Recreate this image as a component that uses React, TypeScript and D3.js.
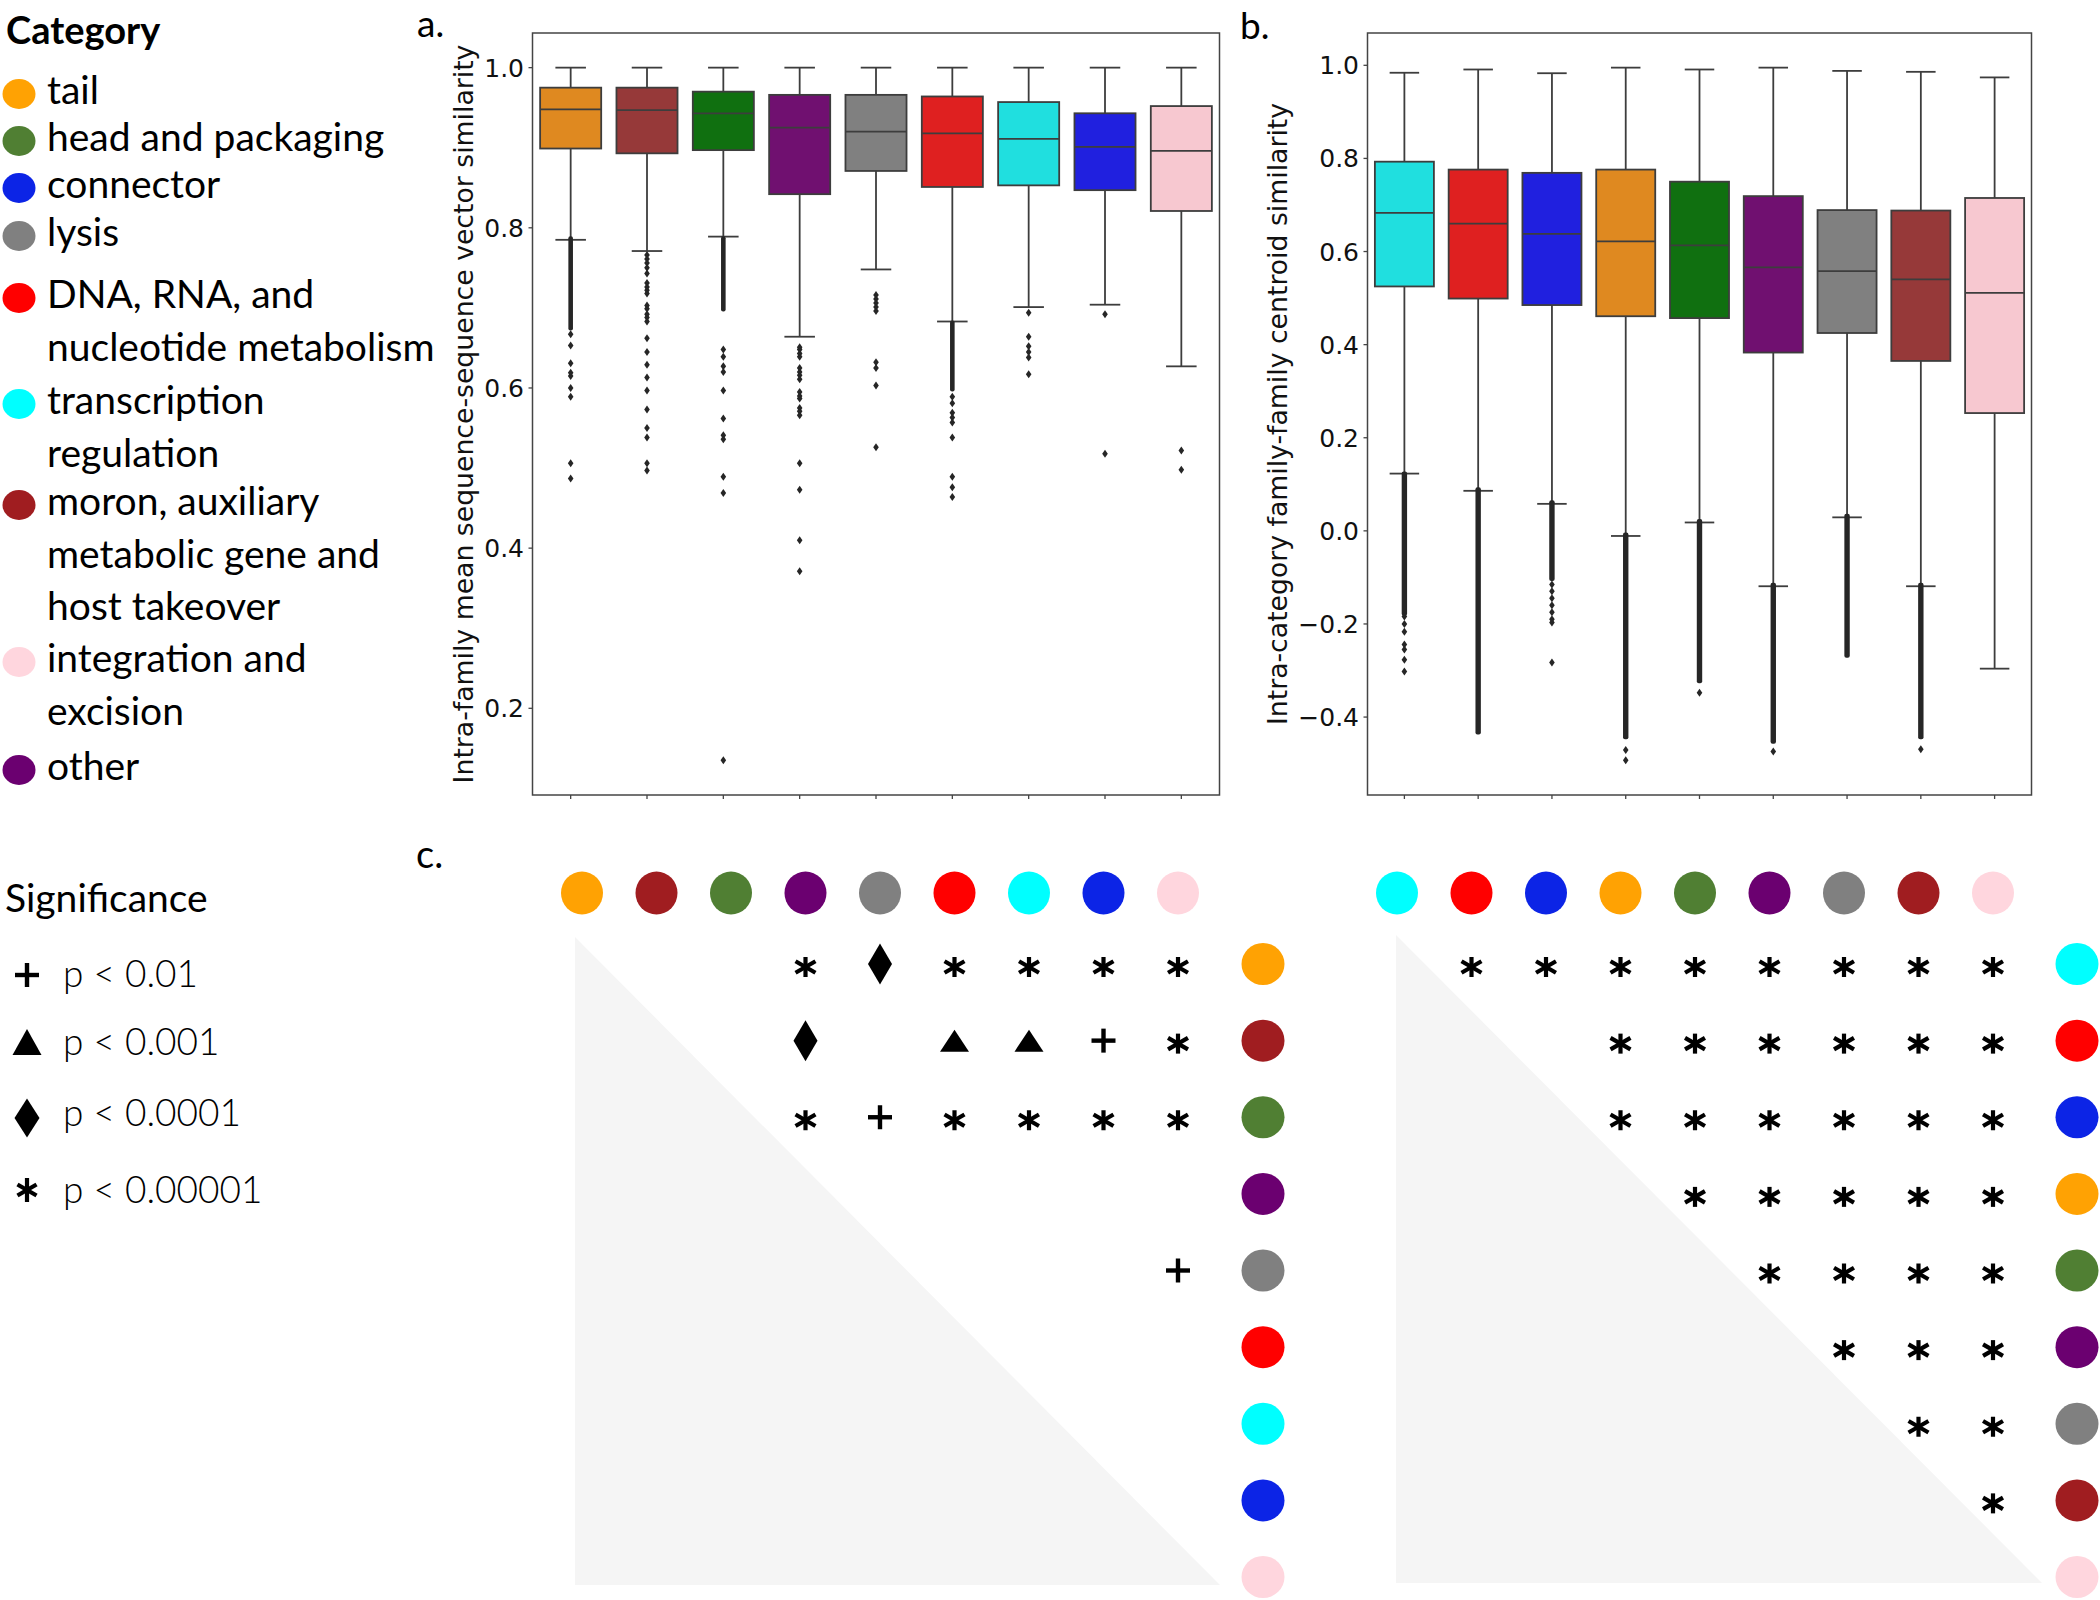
import React from "react";
import * as d3 from "d3";

// categories and colours
const catKeys = ["tail", "head", "connector", "lysis", "dna", "transcription", "moron", "integration", "other"];
const legendLabels = [
  ["tail"],
  ["head and packaging"],
  ["connector"],
  ["lysis"],
  ["DNA, RNA, and", "nucleotide metabolism"],
  ["transcription", "regulation"],
  ["moron, auxiliary", "metabolic gene and", "host takeover"],
  ["integration and", "excision"],
  ["other"],
];
const dotColors = {
  tail: "#ffa203", head: "#507f33", connector: "#0c24e6", lysis: "#808080", dna: "#ff0000",
  transcription: "#00ffff", moron: "#a01d20", integration: "#ffd6de", other: "#6b0070",
};
const boxColors = {
  tail: "#df8920", head: "#107010", connector: "#2020df", lysis: "#808080", dna: "#df2020",
  transcription: "#20dfdf", moron: "#963939", integration: "#f7c8d0", other: "#701070",
};

// panel a: intra-family mean similarity
const orderA = ["tail", "moron", "head", "other", "lysis", "dna", "transcription", "connector", "integration"];
const whiskerHighA = [1.0, 1.0, 1.0, 1.0, 1.0, 1.0, 1.0, 1.0, 1.0];
const q3A = [0.975, 0.975, 0.970, 0.966, 0.966, 0.964, 0.957, 0.943, 0.952];
const medianA = [0.948, 0.947, 0.943, 0.925, 0.920, 0.918, 0.911, 0.901, 0.896];
const q1A = [0.899, 0.893, 0.897, 0.842, 0.871, 0.851, 0.853, 0.847, 0.821];
const whiskerLowA = [0.785, 0.771, 0.789, 0.664, 0.748, 0.683, 0.701, 0.704, 0.627];
const outliersA = [
  [0.667, 0.653, 0.631, 0.619, 0.615, 0.600, 0.589, 0.506, 0.487],
  [0.766, 0.761, 0.756, 0.750, 0.743, 0.731, 0.726, 0.722, 0.718, 0.703, 0.699, 0.692, 0.688, 0.683,
    0.662, 0.645, 0.629, 0.613, 0.597, 0.573, 0.550, 0.538, 0.506, 0.497],
  [0.648, 0.639, 0.627, 0.620, 0.597, 0.562, 0.541, 0.536, 0.489, 0.469, 0.135],
  [0.651, 0.648, 0.643, 0.639, 0.625, 0.620, 0.616, 0.611, 0.595, 0.590, 0.587, 0.575, 0.571, 0.566,
    0.506, 0.473, 0.410, 0.371],
  [0.716, 0.711, 0.706, 0.701, 0.696, 0.632, 0.625, 0.603, 0.526],
  [0.589, 0.581, 0.569, 0.563, 0.557, 0.538, 0.489, 0.476, 0.464],
  [0.694, 0.664, 0.652, 0.645, 0.638, 0.617],
  [0.692, 0.518],
  [0.522, 0.498],
];
// runs of overlapping outliers [from, to]
const denseA = [[0.785, 0.676], null, [0.785, 0.700], null, null, [0.680, 0.600], null, null, null];

// panel b: intra-category family-family centroid similarity
const orderB = ["transcription", "dna", "connector", "tail", "head", "other", "lysis", "moron", "integration"];
const whiskerHighB = [0.984, 0.991, 0.983, 0.995, 0.991, 0.995, 0.988, 0.986, 0.974];
const q3B = [0.793, 0.776, 0.769, 0.776, 0.750, 0.719, 0.689, 0.688, 0.715];
const medianB = [0.683, 0.660, 0.638, 0.622, 0.613, 0.566, 0.558, 0.540, 0.511];
const q1B = [0.525, 0.499, 0.485, 0.461, 0.457, 0.383, 0.425, 0.365, 0.253];
const whiskerLowB = [0.123, 0.086, 0.058, -0.011, 0.018, -0.119, 0.029, -0.119, -0.296];
const outliersB = [
  [-0.184, -0.200, -0.217, -0.244, -0.255, -0.277, -0.302],
  [],
  [-0.115, -0.130, -0.145, -0.160, -0.175, -0.190, -0.197, -0.283],
  [-0.471, -0.493],
  [-0.348],
  [-0.474],
  [],
  [-0.469],
  [],
];
const denseB = [[0.12, -0.175], [0.086, -0.43], [0.058, -0.10], [-0.011, -0.44], [0.018, -0.32],
  [-0.119, -0.45], [0.029, -0.265], [-0.119, -0.44], null];

// panel c: pairwise significance ("*" p<0.00001, "d" p<0.0001, "t" p<0.001, "+" p<0.01)
const sigA = [
  ["", "", "", "*", "d", "*", "*", "*", "*"],
  ["", "", "", "d", "", "t", "t", "+", "*"],
  ["", "", "", "*", "+", "*", "*", "*", "*"],
  ["", "", "", "", "", "", "", "", ""],
  ["", "", "", "", "", "", "", "", "+"],
  ["", "", "", "", "", "", "", "", ""],
  ["", "", "", "", "", "", "", "", ""],
  ["", "", "", "", "", "", "", "", ""],
  ["", "", "", "", "", "", "", "", ""],
];
const sigB = [
  ["", "*", "*", "*", "*", "*", "*", "*", "*"],
  ["", "", "", "*", "*", "*", "*", "*", "*"],
  ["", "", "", "*", "*", "*", "*", "*", "*"],
  ["", "", "", "", "*", "*", "*", "*", "*"],
  ["", "", "", "", "", "*", "*", "*", "*"],
  ["", "", "", "", "", "", "*", "*", "*"],
  ["", "", "", "", "", "", "", "*", "*"],
  ["", "", "", "", "", "", "", "", "*"],
  ["", "", "", "", "", "", "", "", ""],
];
const sigLevels = ["+", "t", "d", "*"];
const sigLabels = ["p < 0.01", "p < 0.001", "p < 0.0001", "p < 0.00001"];

const ticksA = [0.2, 0.4, 0.6, 0.8, 1.0];
const ticksB = [-0.4, -0.2, 0.0, 0.2, 0.4, 0.6, 0.8, 1.0];

const LEGEND_FONT = "Lato, 'Open Sans', sans-serif";
const AXIS_FONT = "'DejaVu Sans', sans-serif";
const LINE = "#3d3d3d";

function drawSymbol(g, type, cx, cy, size = {}) {
  const s = g.append("g").attr("transform", `translate(${cx},${cy})`);
  if (type === "*") {
    const rv = size.rv || 10;
    const rd = size.rd || 11.5;
    [90, 30, -30].forEach((a) => {
      const r = a === 90 ? rv : rd;
      const dx = Math.cos((a * Math.PI) / 180) * r;
      const dy = Math.sin((a * Math.PI) / 180) * r;
      s.append("line").attr("x1", -dx).attr("y1", -dy).attr("x2", dx).attr("y2", dy)
        .attr("stroke", "#000").attr("stroke-width", 4.2);
    });
  } else if (type === "+") {
    const r = size.r || 12;
    s.append("line").attr("x1", -r).attr("x2", r).attr("stroke", "#000").attr("stroke-width", 4.4);
    s.append("line").attr("y1", -r).attr("y2", r).attr("stroke", "#000").attr("stroke-width", 4.4);
  } else if (type === "d") {
    const w = (size.w || 24) / 2, h = (size.h || 41) / 2;
    s.append("path").attr("d", `M0,${-h}L${w},0L0,${h}L${-w},0Z`).attr("fill", "#000");
  } else if (type === "t") {
    const w = (size.w || 29) / 2, h = (size.h || 22) / 2;
    s.append("path").attr("d", `M0,${-h}L${w},${h}L${-w},${h}Z`).attr("fill", "#000");
  }
}

function drawBoxPanel(svg, p) {
  const g = svg.append("g");
  const all = p.low.concat(p.high, p.outliers.flat(), p.dense.filter(Boolean).flat());
  const lo = d3.min(all), hi = d3.max(all);
  const pad = (hi - lo) * 0.05;
  const y = d3.scaleLinear().domain([lo - pad, hi + pad]).range([p.bottom, p.top]);
  const x = d3.scaleBand().domain(p.order).range([p.left, p.right]).padding(0);
  const bw = x.bandwidth() * 0.8;
  const cap = bw * 0.5;

  p.order.forEach((k, i) => {
    const cx = x(k) + x.bandwidth() / 2;
    const b = g.append("g");
    // whiskers
    b.append("line").attr("x1", cx).attr("x2", cx).attr("y1", y(p.high[i])).attr("y2", y(p.q3[i]))
      .attr("stroke", LINE).attr("stroke-width", 1.8);
    b.append("line").attr("x1", cx).attr("x2", cx).attr("y1", y(p.q1[i])).attr("y2", y(p.low[i]))
      .attr("stroke", LINE).attr("stroke-width", 1.8);
    [p.high[i], p.low[i]].forEach((v) => {
      b.append("line").attr("x1", cx - cap / 2).attr("x2", cx + cap / 2).attr("y1", y(v)).attr("y2", y(v))
        .attr("stroke", LINE).attr("stroke-width", 1.8);
    });
    b.append("rect").attr("x", cx - bw / 2).attr("y", y(p.q3[i])).attr("width", bw)
      .attr("height", y(p.q1[i]) - y(p.q3[i])).attr("fill", boxColors[k])
      .attr("stroke", LINE).attr("stroke-width", 1.8);
    b.append("line").attr("x1", cx - bw / 2).attr("x2", cx + bw / 2).attr("y1", y(p.median[i]))
      .attr("y2", y(p.median[i])).attr("stroke", LINE).attr("stroke-width", 1.8);
    // outliers
    const run = p.dense[i];
    if (run) {
      b.append("rect").attr("x", cx - p.runW / 2).attr("y", y(run[0]) - 3.5).attr("width", p.runW)
        .attr("height", y(run[1]) - y(run[0]) + 7).attr("rx", 2).attr("fill", "#262626");
    }
    p.outliers[i].forEach((v) => {
      b.append("path").attr("transform", `translate(${cx},${y(v)})`)
        .attr("d", "M0,-4L2.8,0L0,4L-2.8,0Z").attr("fill", "#262626");
    });
  });

  // frame and axes
  g.append("rect").attr("x", p.left).attr("y", p.top).attr("width", p.right - p.left)
    .attr("height", p.bottom - p.top).attr("fill", "none").attr("stroke", "#444").attr("stroke-width", 1.5);
  p.ticks.forEach((t) => {
    g.append("line").attr("x1", p.left - 4).attr("x2", p.left).attr("y1", y(t)).attr("y2", y(t))
      .attr("stroke", "#444").attr("stroke-width", 1.3);
    g.append("text").attr("x", p.left - 8.5).attr("y", y(t)).attr("dy", "0.36em")
      .attr("text-anchor", "end").attr("font-family", AXIS_FONT).attr("font-size", 25)
      .attr("fill", "#111").text(d3.format(".1f")(t));
  });
  p.order.forEach((k) => {
    const cx = x(k) + x.bandwidth() / 2;
    g.append("line").attr("x1", cx).attr("x2", cx).attr("y1", p.bottom).attr("y2", p.bottom + 4)
      .attr("stroke", "#444").attr("stroke-width", 1.3);
  });
  g.append("text").attr("transform", `translate(${p.labelX},${(p.top + p.bottom) / 2}) rotate(-90)`)
    .attr("text-anchor", "middle").attr("font-family", AXIS_FONT).attr("font-size", 26.7)
    .attr("fill", "#111").text(p.label);
  g.append("text").attr("x", p.letterX).attr("y", p.letterY).attr("font-family", LEGEND_FONT)
    .attr("font-size", 37).attr("fill", "#000").text(p.letter);
}

function drawMatrix(svg, m) {
  const g = svg.append("g");
  const idx = d3.range(m.order.length);
  const cx = d3.scalePoint().domain(idx).range(m.cols);
  const cy = d3.scalePoint().domain(idx).range(m.rows);
  g.append("path").attr("d", `M${m.tri[0]},${m.tri[1]}L${m.tri[0]},${m.tri[3]}L${m.tri[2]},${m.tri[3]}Z`)
    .attr("fill", "#f5f5f5");
  m.order.forEach((k, i) => {
    g.append("ellipse").attr("cx", cx(i)).attr("cy", m.topY).attr("rx", 21).attr("ry", 21.5)
      .attr("fill", dotColors[k]);
    g.append("ellipse").attr("cx", m.sideX).attr("cy", cy(i)).attr("rx", 21.5).attr("ry", 21)
      .attr("fill", dotColors[k]);
  });
  m.sig.forEach((row, r) => {
    row.forEach((s, c) => {
      if (s) drawSymbol(g, s, cx(c), cy(r) + (s === "*" ? 3 : 0));
    });
  });
}

function drawLegends(svg) {
  const g = svg.append("g").attr("font-family", LEGEND_FONT).attr("fill", "#000");
  g.append("text").attr("x", 6).attr("y", 44).attr("font-size", 38).attr("font-weight", 700)
    .text("Category");
  const firstLine = [104, 151, 198, 246, 308, 414, 515, 672, 780];
  catKeys.forEach((k, i) => {
    g.append("ellipse").attr("cx", 19).attr("cy", firstLine[i] - 10).attr("rx", 16.5).attr("ry", 15)
      .attr("fill", dotColors[k]);
    legendLabels[i].forEach((line, j) => {
      g.append("text").attr("x", 47).attr("y", firstLine[i] + j * 52.5).attr("font-size", 39).text(line);
    });
  });

  g.append("text").attr("x", 5).attr("y", 912).attr("font-size", 39).text("Significance");
  const rowY = [987, 1055, 1126, 1203];
  const symY = [975, 1042, 1118, 1190];
  const symSize = [{ r: 12 }, { w: 29, h: 26 }, { w: 25, h: 39 }, { rv: 12, rd: 11 }];
  sigLevels.forEach((s, i) => {
    drawSymbol(g, s, 27, symY[i], symSize[i]);
    g.append("text").attr("x", 63).attr("y", rowY[i]).attr("font-size", 37).attr("font-weight", 300)
      .text(sigLabels[i]);
  });
  g.append("text").attr("x", 416).attr("y", 868).attr("font-size", 38).text("c.");
}

export default function App() {
  const ref = React.useRef(null);

  React.useEffect(() => {
    const svg = d3.select(ref.current);
    svg.selectAll("*").remove();
    svg.append("rect").attr("width", 2100).attr("height", 1600).attr("fill", "#fff");

    drawLegends(svg);
    drawBoxPanel(svg, {
      order: orderA, high: whiskerHighA, q3: q3A, median: medianA, q1: q1A, low: whiskerLowA,
      outliers: outliersA, dense: denseA, ticks: ticksA, runW: 4.6,
      left: 532.5, right: 1219.5, top: 33, bottom: 795,
      label: "Intra-family mean sequence-sequence vector similarity", labelX: 473,
      letter: "a.", letterX: 417, letterY: 37,
    });
    drawBoxPanel(svg, {
      order: orderB, high: whiskerHighB, q3: q3B, median: medianB, q1: q1B, low: whiskerLowB,
      outliers: outliersB, dense: denseB, ticks: ticksB, runW: 5.4,
      left: 1367.5, right: 2031.5, top: 33, bottom: 795,
      label: "Intra-category family-family centroid similarity", labelX: 1287,
      letter: "b.", letterX: 1240, letterY: 39,
    });
    drawMatrix(svg, {
      order: orderA, sig: sigA, cols: [582, 1178], rows: [964, 1577], topY: 893, sideX: 1263,
      tri: [575, 937, 1220, 1585],
    });
    drawMatrix(svg, {
      order: orderB, sig: sigB, cols: [1397, 1993], rows: [964, 1577], topY: 893, sideX: 2077,
      tri: [1396, 935, 2042, 1583],
    });
  }, []);

  return (
    <svg ref={ref} width={2100} height={1600}
      style={{ position: "absolute", left: 0, top: 0, display: "block" }} />
  );
}
